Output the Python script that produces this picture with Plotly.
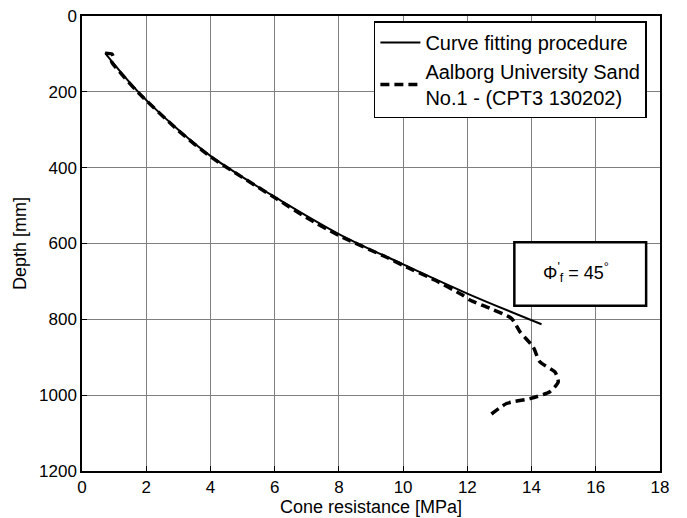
import plotly.graph_objects as go

# Curve fitting procedure (solid)
fit_q = [0.72, 1.75, 3.00, 4.00, 5.00, 6.00, 8.00, 10.00, 12.00, 14.31]
fit_depth = [98, 200, 300, 369, 425, 477, 575, 655, 732, 813]

# Aalborg University Sand No.1 - (CPT3 130202) (dashed)
cpt_q = [0.72, 0.93, 0.98, 0.92, 1.20, 1.75, 3.00, 4.00, 6.00, 7.00, 8.00,
         9.50, 10.00, 11.00, 11.85, 12.08, 12.70, 13.38, 13.64, 14.05, 14.26, 14.73,
         14.83, 14.57, 13.95, 13.22, 12.70]
cpt_depth = [98, 100, 110, 120, 150, 202, 302, 371, 479, 532, 579,
             637, 658, 697, 736, 749, 771, 798, 833, 873, 912, 939,
             965, 991, 1009, 1022, 1053]

x_ticks = [0, 2, 4, 6, 8, 10, 12, 14, 16, 18]
y_ticks = [0, 200, 400, 600, 800, 1000, 1200]

FONT = "Liberation Sans, Arial, sans-serif"

fig = go.Figure()
fig.add_trace(go.Scatter(
    x=fit_q, y=fit_depth, mode="lines", name="Curve fitting procedure",
    line=dict(color="black", width=2, shape="spline", smoothing=1.0),
))
fig.add_trace(go.Scatter(
    x=cpt_q, y=cpt_depth, mode="lines",
    name="Aalborg University Sand<br>No.1 - (CPT3 130202)",
    line=dict(color="black", width=3.5, dash="9px,5px", shape="spline", smoothing=0.6),
))

fig.update_layout(
    width=687, height=518,
    margin=dict(l=82, r=27, t=16, b=47),
    paper_bgcolor="white", plot_bgcolor="white",
    font=dict(family=FONT, size=17, color="black"),
    showlegend=True,
    legend=dict(
        x=0.505, y=0.988, xanchor="left", yanchor="top",
        bgcolor="white", bordercolor="black", borderwidth=1.5,
        font=dict(size=20, family=FONT, color="black"),
        itemwidth=40, tracegroupgap=0,
    ),
    xaxis=dict(
        range=[0, 18], tickvals=x_ticks, ticktext=[str(v) for v in x_ticks],
        showgrid=True, gridcolor="#7f7f7f", gridwidth=1,
        showline=True, linecolor="black", linewidth=1.5, mirror=True,
        ticks="inside", ticklen=5, tickcolor="black",
        zeroline=False, automargin=False,
        title=dict(text="Cone resistance [MPa]", standoff=0, font=dict(size=18)),
        tickfont=dict(size=17),
    ),
    yaxis=dict(
        range=[1200, 0], tickvals=y_ticks, ticktext=[str(v) for v in y_ticks],
        showgrid=True, gridcolor="#7f7f7f", gridwidth=1,
        showline=True, linecolor="black", linewidth=1.5, mirror=True,
        ticks="inside", ticklen=5, tickcolor="black",
        zeroline=False, automargin=False,
        title=dict(text="Depth [mm]", standoff=8, font=dict(size=18)),
        tickfont=dict(size=17),
    ),
    shapes=[dict(
        type="rect", xref="paper", yref="paper",
        x0=0.748, x1=0.976, y0=0.363, y1=0.503,
        line=dict(color="black", width=2.5), fillcolor="white", layer="above",
    )],
    annotations=[dict(
        xref="paper", yref="paper", x=0.855, y=0.437,
        text="Φ<sup>'</sup><sub>f</sub> = 45<sup>°</sup>",
        showarrow=False, font=dict(size=18, family=FONT, color="black"),
        xanchor="center", yanchor="middle",
    )],
)

fig.write_html(
    "out.html",
    config={"displayModeBar": False},
    post_script="document.body.style.margin='0';document.body.style.padding='0';",
)
